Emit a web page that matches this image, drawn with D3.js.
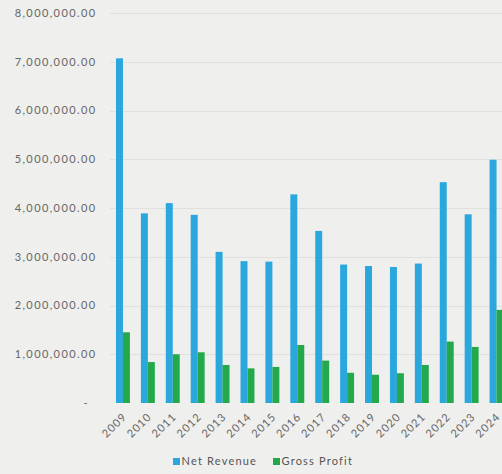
<!DOCTYPE html>
<html lang="en">
<head>
<meta charset="utf-8">
<title>net revenue vs gross profit</title>
<script src="https://d3js.org/d3.v7.min.js"></script>
<style>
  body{margin:0;background:#efefed;font-family:Lato, "Open Sans", sans-serif;}
  svg{display:block;}
  .grid line{stroke:#e0e0de;stroke-width:1;}
  .ylab{fill:#666;font-size:11px;letter-spacing:1.4px;}
  .xlab{fill:#666;font-size:11px;letter-spacing:1px;}
  .leg{fill:#555;font-size:11px;letter-spacing:1.2px;}
</style>
</head>
<body>
<div id="chart"></div>
<script>
var years = ["2009","2010","2011","2012","2013","2014","2015","2016","2017","2018","2019","2020","2021","2022","2023","2024"]
var netRevenue = [7070000,3890000,4100000,3860000,3100000,2910000,2900000,4280000,3530000,2840000,2810000,2790000,2860000,4530000,3870000,4990000]
var grossProfit = [1450000,840000,1000000,1040000,780000,710000,740000,1190000,870000,620000,580000,610000,780000,1260000,1150000,1910000]
var series = ["Net Revenue","Gross Profit"]
var colors = ["#2aa7dd","#23a94c"]
var yTicks = [0,1000000,2000000,3000000,4000000,5000000,6000000,7000000,8000000]

var w = 502, h = 474

var svg = d3.select("#chart").append("svg")
    .attr("width", w)
    .attr("height", h)

var yScale = d3.scaleLinear().domain([0, 8000000]).range([403, 13])
var xScale = d3.scaleBand().domain(years).range([110.5, 509]).paddingInner(0.44).paddingOuter(0.22)
var subScale = d3.scaleBand().domain(series).range([0, xScale.bandwidth()])

// gridlines
svg.append("g").attr("class","grid")
    .selectAll("line")
    .data(yTicks.slice(1))
    .enter().append("line")
    .attr("x1", 110).attr("x2", w)
    .attr("y1", function(d){ return Math.round(yScale(d)) + 0.5 })
    .attr("y2", function(d){ return Math.round(yScale(d)) + 0.5 })

// y labels
var fmt = d3.format(",.2f")
svg.append("g")
    .selectAll("text")
    .data(yTicks)
    .enter().append("text")
    .attr("class","ylab")
    .attr("x", function(d){ return d === 0 ? 89 : 96.5 })
    .attr("y", function(d){ return yScale(d) })
    .attr("dy","0.35em")
    .attr("text-anchor","end")
    .text(function(d){ return d === 0 ? "-" : fmt(d) })

// bars
var rows = years.map(function(y, i){ return {year:y, vals:[netRevenue[i], grossProfit[i]]} })
var groups = svg.append("g").selectAll("g")
    .data(rows)
    .enter().append("g")
    .attr("transform", function(d){ return "translate(" + xScale(d.year) + ",0)" })

groups.selectAll("rect")
    .data(function(d){ return d.vals.map(function(v, j){ return {s:series[j], v:v, c:colors[j]} }) })
    .enter().append("rect")
    .attr("x", function(d){ return subScale(d.s) })
    .attr("width", subScale.bandwidth())
    .attr("y", function(d){ return yScale(d.v) })
    .attr("height", function(d){ return yScale(0) - yScale(d.v) })
    .attr("fill", function(d){ return d.c })

// x labels rotated
svg.append("g")
    .selectAll("text")
    .data(years)
    .enter().append("text")
    .attr("class","xlab")
    .attr("text-anchor","end")
    .attr("transform", function(d){ return "translate(" + (xScale(d) + xScale.bandwidth()/2 - 1) + ",412) rotate(-45)" })
    .attr("dy","0.7em")
    .text(function(d){ return d })

// legend
var legX = [173, 273]
var leg = svg.append("g").selectAll("g")
    .data(series)
    .enter().append("g")
    .attr("transform", function(d, i){ return "translate(" + legX[i] + ",458)" })
leg.append("rect").attr("width",7).attr("height",7).attr("fill", function(d, i){ return colors[i] })
leg.append("text").attr("class","leg").attr("x",8.5).attr("y",3.5).attr("dy","0.35em").text(function(d){ return d })
</script>
</body>
</html>
